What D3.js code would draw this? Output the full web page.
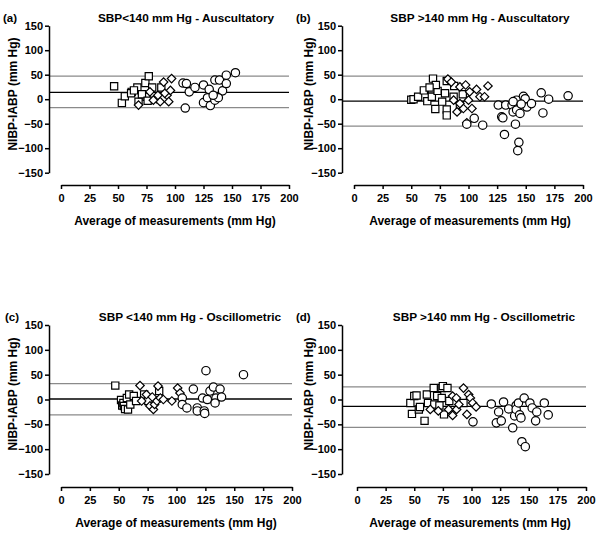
<!DOCTYPE html>
<html>
<head>
<meta charset="utf-8">
<script src="https://cdn.jsdelivr.net/npm/d3@7"></script>
<style>
  body { margin: 0; background: #fff; }
  text { font-family: Arial, "Liberation Sans", sans-serif; font-weight: bold; fill: #000; }
</style>
</head>
<body>
<svg id="chart" width="600" height="537"></svg>
<script>
// tick values shared by all panels
const xTicks = [0, 25, 50, 75, 100, 125, 150, 175, 200];
const yTicks = [-150, -100, -50, 0, 50, 100, 150];

// panel texts
const panelLetters = ["(a)", "(b)", "(c)", "(d)"];
const panelTitles = [
  "SBP<140 mm Hg - Auscultatory",
  "SBP >140 mm Hg - Auscultatory",
  "SBP <140 mm Hg - Oscillometric",
  "SBP >140 mm Hg - Oscillometric"
];
const xLabel = "Average of measurements (mm Hg)";
const yLabel = "NIBP-IABP (mm Hg)";

// mean bias, upper and lower limits of agreement per panel
const meanBias = [14, -4, 1, -14];
const upperLoA = [47, 47, 32, 25.5];
const lowerLoA = [-17, -55, -31, -56];

// (a) points: [average, difference]
const aSquares = [[46.6,26.5],[53.4,-7.5],[56,6],[62,15],[61.5,12],[68,-5],[67,24],[74,33],[77,47],[75,5],[71,10],[80,24],[88,24],[76,-3],[64,18]];
const aDiamonds = [[68,-12],[84,1],[87,-5],[90,35],[93,8],[94.5,-5],[96,18],[97,42],[91,12],[85,8],[81,-2],[78,15]];
const aCircles = [[107,33],[110,32],[109,-18],[112.5,15],[117.5,24],[125,29],[125,-7],[130,20],[128.5,3],[131,-13],[135,-2],[135,39],[139,39],[141.7,17],[138,3],[145,32],[145,49],[153,54],[133.5,8]];

// (b)
const bSquares = [[50,-1],[52,0],[56,5],[61,18],[64,-4],[68,20],[69,42],[68,5],[71,-20],[73,17],[77,-5],[79.5,12],[81,37],[81,-21],[81,-33],[87,5],[87.5,27],[95,10],[92.5,-12],[71.5,29],[66,24]];
const bDiamonds = [[82,41],[85,35],[87,-2],[90,-26],[92.5,25],[95.5,-19],[97.5,29],[100,-2],[101,15],[103,-19],[107,20],[110,5],[114,5],[117,27],[98.5,-48],[92.5,-9]];
const bCircles = [[98.5,-51],[105,-39],[112.4,-53],[126,-12],[129,-36],[130,-38],[131.4,-72],[132.5,-12],[138,-12],[139,-26],[141,-51],[142,-2],[142,-22],[144,-88],[143,-105],[145,-29],[148,6],[149.5,1],[151,-16],[155,-9],[163.5,13],[165,-28],[170,0],[187,7],[139,-5],[146,-10]];

// (c)
const cSquares = [[47,28],[52,-1],[53,-12],[54,-7],[54.5,-13],[55.5,-19],[57,3],[58,-20],[59,10],[60,-10],[63,7],[65,-3],[72,10],[75.6,-3],[85,17]];
const cDiamonds = [[68.4,28],[69.8,-3],[74,10],[77,-13],[80,-20],[81,-10],[83,-3],[84,27],[86,3],[88.6,0],[96,-3],[101,23],[103,13],[79,5]];
const cCircles = [[105,3],[105,-10],[109,-17],[114.6,21],[118,-17],[118,-23],[122.6,3],[124,-23],[124.4,-28],[125.5,58],[126.7,0],[129,17],[132,25],[134.2,3],[133.4,-7],[137.7,21],[139,5],[158,50]];

// (d)
const dSquares = [[46.6,-7],[48,-29],[50,7],[52,8],[54,-20],[55,-15],[59,-43],[61,10],[62,-7],[67,23],[67.5,-10],[70,7],[74,23],[75,27],[76,-30],[74,3],[79,23],[80.6,-3],[93,-7],[72,-12]];
const dDiamonds = [[64,-20],[71,-23],[80,-20],[83.5,-32],[83.5,7],[86.8,3],[87,-20],[93,23],[96,-30],[97.5,10],[99,3],[101,-7],[104,-15],[89,-10]];
const dCircles = [[101.3,-45],[117.3,-9],[121.7,-47],[123.7,-25],[126,-43],[128,-5],[132.5,-19],[136,-57],[137.7,-33],[139,-12],[139,-20],[141,-7],[142,-31],[143.2,-37],[144,-85],[147,-95],[146,3],[151,-7],[153,-17],[157,-25],[156,-43],[163.6,-7],[167,-31]];

const squares = [aSquares, bSquares, cSquares, dSquares];
const diamonds = [aDiamonds, bDiamonds, cDiamonds, dDiamonds];
const circles = [aCircles, bCircles, cCircles, dCircles];

// panel geometry (pixel layout)
const panels = [
  { yAxisX: 49,  xRange: [61, 289],  yRange: [172.7, 25.7], xAxisY: 185, letterX: 3,   letterY: 22,  titleX: 186, titleY: 22,  xLabX: 175, xLabY: 225, yLabX: 17,  yLabY: 94 },
  { yAxisX: 342, xRange: [354, 583], yRange: [172.7, 25.7], xAxisY: 185, letterX: 296, letterY: 22,  titleX: 480, titleY: 22,  xLabX: 470, xLabY: 225, yLabX: 313, yLabY: 94 },
  { yAxisX: 49,  xRange: [61, 292],  yRange: [474, 325],    xAxisY: 487, letterX: 5,   letterY: 321, titleX: 190, titleY: 321, xLabX: 176, xLabY: 527, yLabX: 17,  yLabY: 394 },
  { yAxisX: 342, xRange: [357, 586], yRange: [474, 325],    xAxisY: 487, letterX: 296, letterY: 321, titleX: 484, titleY: 321, xLabX: 470, xLabY: 527, yLabX: 313, yLabY: 394 }
];

const svg = d3.select("#chart");

const squareSym = d3.symbol().type(d3.symbolSquare).size(52);
const diamondSym = d3.symbol().type(d3.symbolSquare).size(36);
const circleSym = d3.symbol().type(d3.symbolCircle).size(55);

panels.forEach(function (p, i) {
  const x = d3.scaleLinear().domain([0, 200]).range(p.xRange);
  const y = d3.scaleLinear().domain([-150, 150]).range(p.yRange);
  const g = svg.append("g");

  // reference lines (limits of agreement gray, mean black)
  const lineX1 = p.yAxisX, lineX2 = x(200);
  [upperLoA[i], lowerLoA[i]].forEach(function (v) {
    g.append("line")
      .attr("x1", lineX1).attr("x2", lineX2)
      .attr("y1", y(v)).attr("y2", y(v))
      .attr("stroke", "#8a8a8a").attr("stroke-width", 1.2);
  });
  g.append("line")
    .attr("x1", lineX1).attr("x2", lineX2)
    .attr("y1", y(meanBias[i])).attr("y2", y(meanBias[i]))
    .attr("stroke", "#000").attr("stroke-width", 1.3);

  // y axis
  const yAxis = g.append("g")
    .attr("transform", "translate(" + p.yAxisX + ",0)")
    .call(d3.axisLeft(y).tickValues(yTicks).tickSize(4).tickPadding(2).tickSizeOuter(0));
  // x axis
  const xAxis = g.append("g")
    .attr("transform", "translate(0," + p.xAxisY + ")")
    .call(d3.axisBottom(x).tickValues(xTicks).tickSize(4).tickPadding(5).tickSizeOuter(0));
  [xAxis, yAxis].forEach(function (ax) {
    ax.select(".domain").attr("stroke", "#000").attr("stroke-width", 1.5);
    ax.selectAll(".tick line").attr("stroke", "#000").attr("stroke-width", 1.5);
    ax.selectAll("text").attr("font-size", 11).attr("font-weight", "bold")
      .attr("font-family", "Arial, 'Liberation Sans', sans-serif").attr("fill", "#000");
  });

  // markers: squares, diamonds, circles
  const markStyle = function (sel) {
    sel.attr("fill", "#fff").attr("stroke", "#000").attr("stroke-width", 1.2);
  };
  g.append("g").selectAll("path").data(squares[i]).join("path")
    .attr("d", squareSym)
    .attr("transform", d => "translate(" + x(d[0]) + "," + y(d[1]) + ")")
    .call(markStyle);
  g.append("g").selectAll("path").data(diamonds[i]).join("path")
    .attr("d", diamondSym)
    .attr("transform", d => "translate(" + x(d[0]) + "," + y(d[1]) + ") rotate(45)")
    .call(markStyle);
  g.append("g").selectAll("path").data(circles[i]).join("path")
    .attr("d", circleSym)
    .attr("transform", d => "translate(" + x(d[0]) + "," + y(d[1]) + ")")
    .call(markStyle);

  // texts
  g.append("text").attr("x", p.letterX).attr("y", p.letterY)
    .attr("font-size", 11.5).text(panelLetters[i]);
  g.append("text").attr("x", p.titleX).attr("y", p.titleY)
    .attr("font-size", 11.8).attr("text-anchor", "middle").text(panelTitles[i]);
  g.append("text").attr("x", p.xLabX).attr("y", p.xLabY)
    .attr("font-size", 12).attr("text-anchor", "middle").text(xLabel);
  g.append("text")
    .attr("transform", "translate(" + p.yLabX + "," + p.yLabY + ") rotate(-90)")
    .attr("font-size", 12).attr("text-anchor", "middle").text(yLabel);
});
</script>
</body>
</html>
